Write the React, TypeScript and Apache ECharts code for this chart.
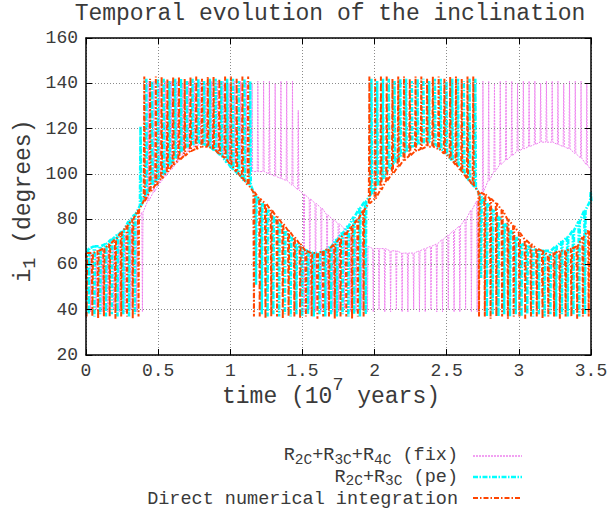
import React, { useEffect, useRef } from 'react';
import * as echarts from 'echarts';

// ---- Chart texts ----
const TITLE = 'Temporal evolution of the inclination';
const SERIES_NAMES = ['R2C+R3C+R4C (fix)', 'R2C+R3C (pe)', 'Direct numerical integration'];
// legend rows: [text, isSubscript]
const LEGEND_ROWS: [string, boolean][][] = [
  [['R', false], ['2C', true], ['+R', false], ['3C', true], ['+R', false], ['4C', true], [' (fix)', false]],
  [['R', false], ['2C', true], ['+R', false], ['3C', true], [' (pe)', false]],
  [['Direct numerical integration', false]],
];

// ---- Axes ----
const X_MIN = 0;
const X_MAX = 3.5;
const X_INTERVAL = 0.5;
const Y_MIN = 20;
const Y_MAX = 160;
const Y_INTERVAL = 20;

// ---- Data: one fast oscillation every PERIOD (10^7 years). For each one:
// the slow envelope value it sits on, and the extreme it reaches ----
const PERIOD = 0.04;

// R2C+R3C+R4C (fix)
const fixStart = 0.027;
const fixEnvelope = [
  65, 64, 65, 66, 68, 70, 73, 76, 79, 83,
  88, 92, 96, 99, 102, 105, 108, 110, 112, 113,
  113, 112, 110, 108, 106, 105, 104, 102, 101, 101,
  101, 100, 99, 98, 97, 95, 93, 91, 89, 87,
  85, 82, 80, 78, 76, 73, 71, 70, 68, 67,
  67, 67, 66, 66, 65, 65, 65, 66, 67, 68,
  69, 71, 73, 75, 77, 80, 84, 88, 92, 97,
  101, 104, 106, 108, 110, 111, 112, 113, 114, 114,
  114, 113, 112, 111, 109, 107, 104, 101,
];
const fixExtreme = [
  39, 40, 39, 39, 40, 39, 39, 40, 39, 39,
  141, 141, 140, 141, 141, 141, 140, 141, 141, 141,
  140, 141, 141, 141, 140, 141, 141, 141, 140, 141,
  141, 141, 140, 141, 141, 141, 128, 39, 40, 39,
  39, 40, 39, 39, 40, 39, 39, 40, 39, 39,
  40, 39, 39, 40, 39, 39, 40, 39, 39, 40,
  39, 39, 40, 39, 39, 40, 39, 39, 141, 141,
  140, 141, 141, 141, 140, 141, 141, 141, 140, 141,
  141, 141, 140, 141, 141, 141, 140, 141,
];

// R2C+R3C (pe)
const peStart = 0.014;
const peEnvelope = [
  67, 68, 68, 69, 71, 73, 75, 79, 82, 86,
  91, 95, 98, 100, 104, 107, 110, 112, 113, 114,
  113, 112, 110, 108, 105, 102, 100, 97, 95, 90,
  87, 84, 81, 78, 75, 72, 69, 67, 66, 65,
  65, 66, 68, 71, 74, 77, 81, 85, 88, 91,
  95, 98, 102, 105, 108, 110, 112, 113, 114, 114,
  113, 111, 109, 106, 104, 101, 97, 94, 90, 87,
  84, 81, 78, 75, 72, 69, 68, 67, 66, 66,
  66, 68, 70, 72, 75, 79, 84, 88,
];
const peExtreme = [
  38, 37, 38, 37, 38, 37, 38, 37, 38, 121,
  142, 141, 142, 142, 141, 142, 142, 141, 142, 142,
  141, 142, 142, 141, 142, 142, 141, 142, 141, 51,
  38, 37, 38, 37, 38, 37, 38, 37, 38, 37,
  38, 37, 38, 37, 38, 37, 38, 37, 38, 142,
  141, 142, 142, 141, 142, 142, 141, 142, 142, 141,
  142, 142, 141, 142, 142, 141, 142, 142, 54, 37,
  38, 37, 38, 37, 38, 37, 38, 37, 38, 37,
  38, 37, 38, 37, 38, 37, 38, 92,
];

// Direct numerical integration
const directStart = 0;
const directEnvelope = [
  65, 65, 66, 67, 69, 71, 74, 77, 80, 84,
  88, 92, 95, 98, 101, 104, 106, 108, 110, 111,
  112, 112, 111, 109, 107, 104, 101, 98, 95, 92,
  89, 87, 84, 81, 78, 75, 72, 69, 66, 65,
  65, 66, 67, 69, 72, 74, 77, 80, 84, 87,
  89, 93, 97, 100, 103, 106, 108, 110, 111, 112,
  112, 111, 109, 107, 104, 101, 98, 95, 92, 91,
  89, 87, 84, 80, 77, 74, 71, 69, 67, 66,
  64, 65, 66, 66, 67, 68, 72, 75,
];
const directExtreme = [
  37, 37, 36, 37, 37, 36, 37, 37, 36, 37,
  143, 142, 143, 143, 142, 143, 143, 142, 143, 143,
  142, 143, 143, 142, 143, 143, 142, 143, 143, 37,
  37, 36, 37, 37, 36, 37, 37, 36, 37, 37,
  36, 37, 37, 36, 37, 37, 36, 37, 37, 143,
  142, 143, 143, 142, 143, 143, 142, 143, 143, 142,
  143, 143, 142, 143, 143, 142, 143, 143, 37, 37,
  36, 37, 37, 36, 37, 37, 36, 37, 37, 36,
  37, 37, 36, 37, 37, 36, 37, 37,
];

// Each oscillation is drawn as a narrow spike (rendering width only)
const SPIKE_HALF_WIDTH = 0.004;

function buildSeriesData(start: number, envelope: number[], extreme: number[]) {
  const out: number[][] = [];
  for (let i = 0; i < envelope.length; i++) {
    const t = start + i * PERIOD;
    out.push([t, envelope[i]]);
    out.push([t + SPIKE_HALF_WIDTH, extreme[i]]);
    out.push([t + 2 * SPIKE_HALF_WIDTH, envelope[i]]);
  }
  return out;
}

const FONT = "'Liberation Mono', 'DejaVu Sans Mono', monospace";
const TEXT_COLOR = '#3a3a3a';
const MONO_ADVANCE = 0.6;

const STYLES = [
  { color: '#ee82ee', width: 1, dash: [2, 1] },
  { color: '#00ffff', width: 2.6, dash: [5, 1.5, 1.5, 1.5] },
  { color: '#ff4500', width: 2, dash: [5, 2, 1.5, 2] },
];

function legendTexts(rowsY: number[], rightX: number) {
  const mainSize = 18.5;
  const subSize = 14.5;
  const els: any[] = [];
  LEGEND_ROWS.forEach((row, r) => {
    let x = rightX;
    for (let k = row.length - 1; k >= 0; k--) {
      const [txt, isSub] = row[k];
      const size = isSub ? subSize : mainSize;
      els.push({
        type: 'text',
        x,
        y: rowsY[r] + (isSub ? 4 : 0),
        style: {
          text: txt.replace(/ /g, '\u00a0'),
          fontFamily: FONT,
          fontSize: size,
          fill: TEXT_COLOR,
          align: 'right',
          verticalAlign: 'middle',
        },
      });
      x -= txt.length * size * MONO_ADVANCE;
    }
  });
  return els;
}

export default function App() {
  const ref = useRef<HTMLDivElement>(null);

  useEffect(() => {
    if (!ref.current) return;
    const chart = echarts.init(ref.current, undefined, { renderer: 'svg' });

    const datasets = [
      buildSeriesData(fixStart, fixEnvelope, fixExtreme),
      buildSeriesData(peStart, peEnvelope, peExtreme),
      buildSeriesData(directStart, directEnvelope, directExtreme),
    ];

    const axisLine = { show: true, onZero: false, lineStyle: { color: '#000', width: 1.5 } };
    const axisTick = { show: true, inside: true, length: 6, lineStyle: { color: '#000', width: 1 } };
    const labelStyle = { fontFamily: FONT, fontSize: 18, color: TEXT_COLOR };
    const gridLine = { show: true, lineStyle: { color: '#8a8a8a', type: [1, 2], width: 1 } };

    const mainRich = { fontFamily: FONT, fontSize: 23, fill: TEXT_COLOR };
    const smallRich = { fontFamily: FONT, fontSize: 18.4, fill: TEXT_COLOR };

    const legendRowsY = [455.5, 477, 499];
    const legendLinesY = [456, 477, 498];

    const option: any = {
      animation: false,
      backgroundColor: '#ffffff',
      grid: { left: 86, right: 24, top: 38, bottom: 155, containLabel: false },
      xAxis: [
        {
          type: 'value', min: X_MIN, max: X_MAX, interval: X_INTERVAL, position: 'bottom', z: 3,
          axisLine, axisTick,
          axisLabel: { ...labelStyle, margin: 7, showMinLabel: true, showMaxLabel: true, hideOverlap: false },
          splitLine: gridLine,
        },
        {
          type: 'value', min: X_MIN, max: X_MAX, interval: X_INTERVAL, position: 'top', z: 3,
          axisLine, axisTick, axisLabel: { show: false }, splitLine: { show: false },
        },
      ],
      yAxis: [
        {
          type: 'value', min: Y_MIN, max: Y_MAX, interval: Y_INTERVAL, position: 'left', z: 3,
          axisLine, axisTick,
          axisLabel: { ...labelStyle, margin: 8, showMinLabel: true, showMaxLabel: true },
          splitLine: gridLine,
        },
        {
          type: 'value', min: Y_MIN, max: Y_MAX, interval: Y_INTERVAL, position: 'right', z: 3,
          axisLine, axisTick, axisLabel: { show: false }, splitLine: { show: false },
        },
      ],
      series: datasets.map((data, i) => ({
        type: 'line',
        name: SERIES_NAMES[i],
        data,
        xAxisIndex: 0,
        yAxisIndex: 0,
        symbol: 'none',
        showSymbol: false,
        clip: true,
        z: 2,
        lineStyle: { color: STYLES[i].color, width: STYLES[i].width, type: STYLES[i].dash },
        itemStyle: { color: STYLES[i].color },
      })),
      graphic: [
        {
          type: 'text', x: 330, y: 14,
          style: { text: TITLE, fontFamily: FONT, fontSize: 23, fill: TEXT_COLOR, align: 'center', verticalAlign: 'middle' },
        },
        {
          type: 'text', x: 331, y: 397,
          style: {
            text: '{m|time (10}{p|7}{m|\u00a0years)}',
            align: 'center', verticalAlign: 'middle',
            fontFamily: FONT, fontSize: 23, fill: TEXT_COLOR,
            rich: { m: mainRich, p: { ...smallRich, padding: [0, 0, 24, 0] } },
          },
        },
        {
          type: 'text', x: 24, y: 201, rotation: Math.PI / 2,
          style: {
            text: '{m|i}{b|1}{m|\u00a0(degrees)}',
            align: 'center', verticalAlign: 'middle',
            fontFamily: FONT, fontSize: 23, fill: TEXT_COLOR,
            rich: { m: mainRich, b: { ...smallRich, padding: [12, 0, 0, 0] } },
          },
        },
        ...legendTexts(legendRowsY, 458),
        ...STYLES.map((s, i) => ({
          type: 'line',
          shape: { x1: 473, y1: legendLinesY[i], x2: 522, y2: legendLinesY[i] },
          style: { stroke: s.color, lineWidth: i === 0 ? 1.5 : s.width, lineDash: s.dash },
        })),
      ],
    };

    chart.setOption(option);
    return () => chart.dispose();
  }, []);

  return (
    <div
      ref={ref}
      style={{ position: 'fixed', left: 0, top: 0, width: 615, height: 510, background: '#fff' }}
    />
  );
}
